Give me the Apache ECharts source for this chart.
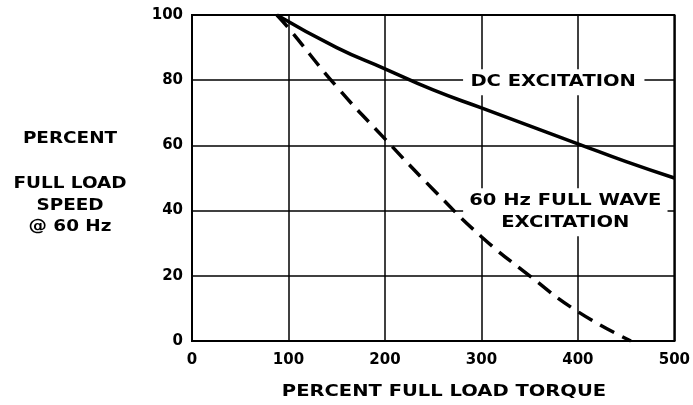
<!DOCTYPE html>
<html><head><meta charset="utf-8">
<script src="https://cdn.jsdelivr.net/npm/echarts@6/dist/echarts.min.js"></script>
<style>html,body{margin:0;padding:0;background:#fff}#c{width:693px;height:405px}</style>
</head><body><div id="c"></div>
<script>
var xTicks = [0, 100, 200, 300, 400, 500];
var yTicks = [0, 20, 40, 60, 80, 100];
var dcTorque = [88, 150, 200, 250, 300, 350, 400, 450, 500];
var dcSpeed  = [100, 90, 83.5, 77, 71.5, 66, 60.5, 55, 50];
var acTorque = [88, 100, 150, 200, 250, 300, 350, 400, 455];
var acSpeed  = [100, 96, 78, 62, 46.5, 32, 20, 9, 0];
var xTitle = 'PERCENT FULL LOAD TORQUE';
var yTitleLines = ['PERCENT', 'FULL LOAD', 'SPEED', '@ 60 Hz'];
var dcLabel = 'DC EXCITATION';
var acLabel = '60 Hz FULL WAVE\nEXCITATION';

var F = 'DejaVu Sans';
var TF = 'bold 16px "DejaVu Sans"';
var SX = 1.22;
function pairs(a, b) { return a.map(function (v, i) { return [v, b[i]]; }); }
var chart = echarts.init(document.getElementById('c'));
chart.setOption({
  animation: false,
  backgroundColor: '#fff',
  grid: { left: 192, right: 16, top: 15, bottom: 64, show: true, borderColor: '#000', borderWidth: 2, backgroundColor: 'transparent' },
  xAxis: {
    type: 'value', min: xTicks[0], max: xTicks[xTicks.length - 1], interval: 100,
    axisLine: { show: true, lineStyle: { color: '#000', width: 2 } },
    axisTick: { show: false },
    splitLine: { show: true, lineStyle: { color: '#000', width: 1.5 } },
    axisLabel: { color: '#000', fontFamily: F, fontWeight: 'bold', fontSize: 15, margin: 12 }
  },
  yAxis: {
    type: 'value', min: yTicks[0], max: yTicks[yTicks.length - 1], interval: 20,
    axisLine: { show: true, lineStyle: { color: '#000', width: 2 } },
    axisTick: { show: false },
    splitLine: { show: true, lineStyle: { color: '#000', width: 1.5 } },
    axisLabel: { color: '#000', fontFamily: F, fontWeight: 'bold', fontSize: 15, margin: 9 }
  },
  series: [{
    type: 'line', data: pairs(dcTorque, dcSpeed), smooth: true, symbol: 'none', z: 5,
    lineStyle: { color: '#000', width: 3.5 }
  }, {
    type: 'line', data: pairs(acTorque, acSpeed), smooth: true, symbol: 'none', z: 5,
    lineStyle: { color: '#000', width: 3.5, type: [16, 9] }
  }]
});

var dcPos = chart.convertToPixel({ gridIndex: 0 }, [375, 80]);
var acPos = chart.convertToPixel({ gridIndex: 0 }, [387, 39.5]);
var yCenters = [139, 184, 205.5, 227];
var graphics = [];
yTitleLines.forEach(function (t, i) {
  graphics.push({ type: 'text', x: 70, y: yCenters[i], scaleX: 1.15, z: 1,
    style: { text: t, font: TF, fill: '#000', textAlign: 'center', textVerticalAlign: 'middle' } });
});
graphics.push({ type: 'text', x: 444, y: 392, scaleX: SX, z: 1,
  style: { text: xTitle, font: TF, fill: '#000', textAlign: 'center', textVerticalAlign: 'middle' } });
graphics.push({ type: 'text', x: dcPos[0], y: dcPos[1] + 2, scaleX: SX, z: 1,
  style: { text: dcLabel, font: TF, fill: '#000', textAlign: 'center', textVerticalAlign: 'middle',
           backgroundColor: '#fff', padding: [5, 7, 5, 6] } });
graphics.push({ type: 'text', x: acPos[0], y: acPos[1], scaleX: SX, z: 1,
  style: { text: acLabel, font: TF, fill: '#000', textAlign: 'center', textVerticalAlign: 'middle', lineHeight: 22,
           backgroundColor: '#fff', padding: [3, 5, 1, 5] } });
chart.setOption({ graphic: graphics });
</script></body></html>
